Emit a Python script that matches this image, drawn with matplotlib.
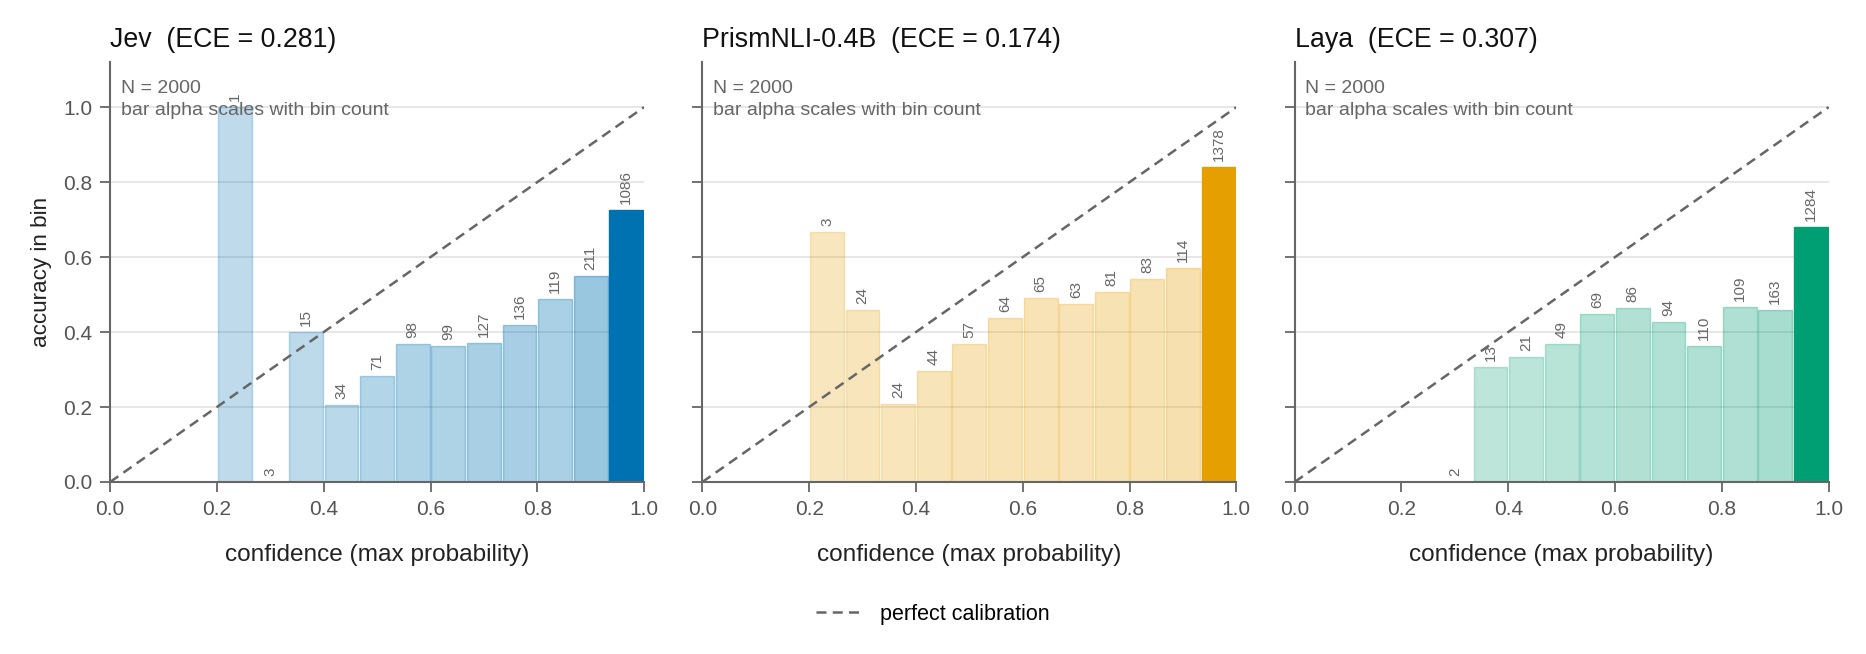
import numpy as np
import matplotlib
matplotlib.use("Agg")
import matplotlib.pyplot as plt
from matplotlib.lines import Line2D

# Datos: 15 bins de confianza, conteo y precisión por bin
n_bins = 15
models = ["Jev", "PrismNLI-0.4B", "Laya"]
ece = [0.281, 0.174, 0.307]
colors = ["#0072B2", "#E69F00", "#009E73"]

jev_counts = [0, 0, 0, 1, 3, 15, 34, 71, 98, 99, 127, 136, 119, 211, 1086]
jev_acc = [0, 0, 0, 1.0, 0.0, 0.400, 0.206, 0.282, 0.367, 0.364, 0.370, 0.419, 0.487, 0.550, 0.726]

prism_counts = [0, 0, 0, 3, 24, 24, 44, 57, 64, 65, 63, 81, 83, 114, 1378]
prism_acc = [0, 0, 0, 0.667, 0.458, 0.208, 0.295, 0.368, 0.438, 0.492, 0.476, 0.506, 0.542, 0.570, 0.839]

laya_counts = [0, 0, 0, 0, 2, 13, 21, 49, 69, 86, 94, 110, 109, 163, 1284]
laya_acc = [0, 0, 0, 0, 0.0, 0.308, 0.333, 0.367, 0.449, 0.465, 0.426, 0.364, 0.468, 0.460, 0.680]

all_counts = [jev_counts, prism_counts, laya_counts]
all_acc = [jev_acc, prism_acc, laya_acc]
n_total = 2000

plt.rcParams['font.family'] = ['Liberation Sans', 'DejaVu Sans']

fig, axes = plt.subplots(1, 3, figsize=(18.66, 6.54), dpi=100, sharey=True)
fig.subplots_adjust(left=0.059, right=0.980, top=0.905, bottom=0.263, wspace=0.109)

edges = np.linspace(0, 1, n_bins + 1)
bw = edges[1] - edges[0]
centers = edges[:-1] + bw / 2

for i, ax in enumerate(axes):
    counts = np.array(all_counts[i])
    acc = np.array(all_acc[i])
    c = colors[i]
    cmax = counts.max()

    ax.grid(axis='y', color='#e3e3e3', linewidth=1.2, zorder=0)
    ax.set_axisbelow(True)

    for k in range(n_bins):
        if counts[k] == 0:
            continue
        # alpha crece con el conteo del bin
        a = 0.25 + 0.75 * counts[k] / cmax
        ax.bar(centers[k], acc[k], width=bw * 0.95, color=c, alpha=a,
               edgecolor=c, linewidth=1.0, zorder=2)
        ax.text(centers[k], acc[k] + 0.016, str(counts[k]), rotation=90,
                ha='center', va='bottom', fontsize=11, color='#666666', zorder=4)

    ax.plot([0, 1], [0, 1], linestyle=(0, (4, 2.5)), color='#666666', linewidth=1.8, zorder=3)

    ax.text(0.02, 0.957, "N = %d\nbar alpha scales with bin count" % n_total,
            transform=ax.transAxes, ha='left', va='top', fontsize=14,
            color='#666666', linespacing=1.4, zorder=5)

    ax.set_title("%s  (ECE = %.3f)" % (models[i], ece[i]), loc='left',
                 fontsize=19.3, color='#111111', pad=11)

    ax.set_xlim(0, 1)
    ax.set_ylim(0, 1.12)
    ax.set_xticks([0, 0.2, 0.4, 0.6, 0.8, 1.0])
    ax.set_yticks([0, 0.2, 0.4, 0.6, 0.8, 1.0])
    ax.set_xlabel("confidence (max probability)", fontsize=17.6, color='#222222', labelpad=18)
    for side in ['top', 'right']:
        ax.spines[side].set_visible(False)
    for side in ['left', 'bottom']:
        ax.spines[side].set_color('#666666')
        ax.spines[side].set_linewidth(1.5)
    ax.tick_params(direction='out', length=7, width=1.3, color='#666666',
                   labelcolor='#555555', labelsize=15, pad=6)

axes[0].set_ylabel("accuracy in bin", fontsize=16.2, color='#222222', labelpad=8)

handle = Line2D([], [], linestyle=(0, (4, 2.5)), color='#666666', linewidth=1.8)
fig.legend([handle], ["perfect calibration"], loc='center', bbox_to_anchor=(0.5, 0.061),
           frameon=False, fontsize=15.5, handlelength=2.2)

plt.savefig("out.png", dpi=100)
